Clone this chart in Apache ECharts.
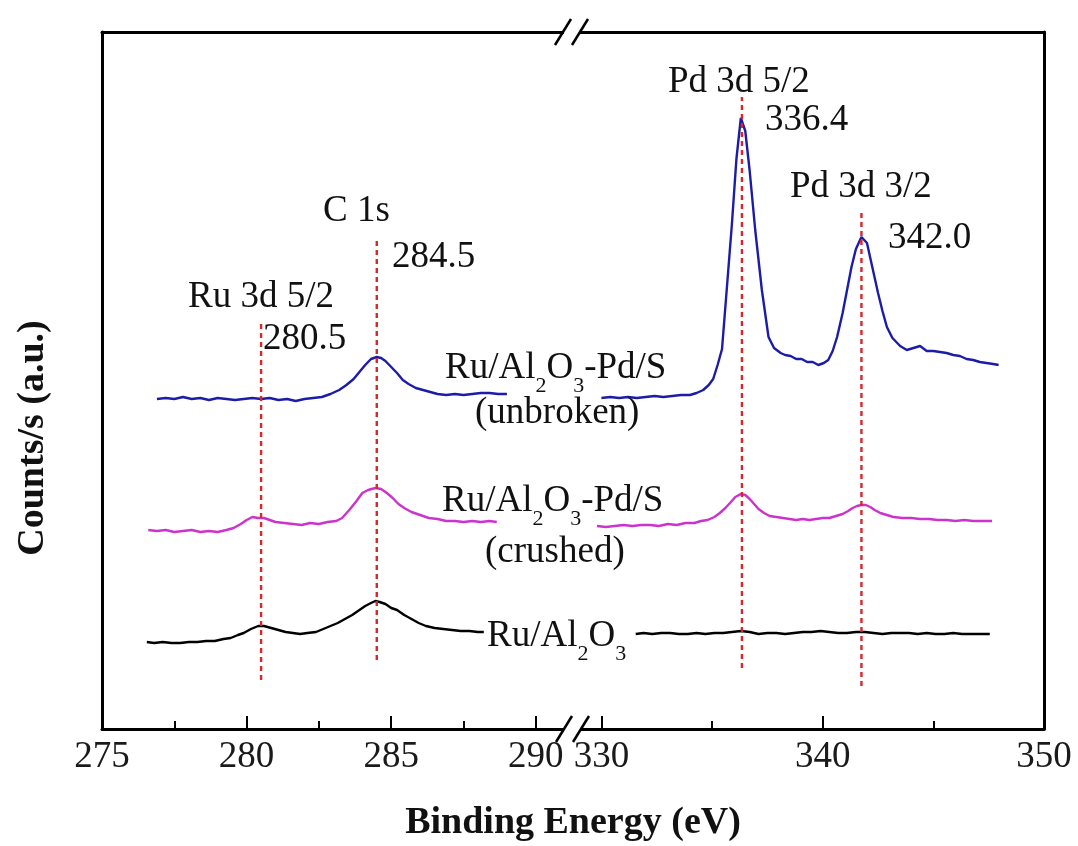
<!DOCTYPE html>
<html><head><meta charset="utf-8">
<script src="https://cdn.jsdelivr.net/npm/echarts@6/dist/echarts.min.js"></script>
<style>html,body{margin:0;padding:0;background:#fff}#c{width:1078px;height:846px}</style>
</head><body><div id="c"></div>
<script>
// ---- axis ticks / labels ----
const leftTickLabels = [275, 280, 285, 290];
const leftMinorTicks = [277.5, 282.5, 287.5];
const rightTickLabels = [330, 340, 350];
const rightMinorTicks = [335, 345];

// ---- series: [binding energy (eV), counts (a.u.)] ----
const unbrokenLeft = [[276.9,330],[277.2,331],[277.5,330],[277.8,332],[278.1,330],[278.4,331],[278.7,329],[279.0,331],[279.3,330],[279.6,329],[279.9,330],[280.2,331],[280.5,330],[280.8,331],[281.1,329],[281.4,330],[281.7,328],[282.0,330],[282.3,331],[282.6,332],[282.9,335],[283.2,339],[283.45,344],[283.7,350],[283.9,357],[284.1,364],[284.3,370],[284.5,372],[284.65,371],[284.8,368],[285.0,362],[285.2,356],[285.4,349],[285.6,345],[285.85,341],[286.1,339],[286.35,337],[286.6,335],[286.9,334],[287.2,335],[287.5,334],[287.8,335],[288.1,336],[288.4,336],[288.7,335],[289.0,335]];
const unbrokenRight = [[330.0,331],[330.4,332],[330.8,331],[331.2,332],[331.6,331],[332.0,332],[332.4,333],[332.8,332],[333.2,333],[333.6,334],[334.0,334],[334.3,336],[334.6,339],[334.85,344],[335.05,350],[335.25,364],[335.45,380],[335.65,436],[335.9,506],[336.1,570],[336.3,611],[336.5,598],[336.7,558],[336.95,499],[337.25,439],[337.55,392],[337.8,381],[338.1,376],[338.3,374],[338.55,373],[338.8,370],[339.05,370],[339.3,367],[339.55,367],[339.8,364],[340.05,366],[340.25,369],[340.45,378],[340.65,392],[340.9,416],[341.1,439],[341.3,462],[341.5,480],[341.75,492],[342.0,486],[342.3,456],[342.5,436],[342.7,418],[342.9,402],[343.15,391],[343.5,383],[343.8,379],[344.1,381],[344.4,383],[344.7,378],[345.0,378],[345.3,377],[345.6,376],[345.9,374],[346.2,373],[346.5,370],[346.8,369],[347.1,367],[347.4,366],[347.7,365],[347.95,364]];
const crushedLeft = [[276.6,199],[276.9,198],[277.2,199],[277.5,197],[277.8,198],[278.1,199],[278.4,197],[278.7,198],[279.0,197],[279.3,199],[279.55,201],[279.8,205],[280.0,209],[280.2,212],[280.4,211],[280.6,211],[280.8,209],[281.0,207],[281.3,206],[281.6,205],[281.9,204],[282.2,206],[282.5,205],[282.8,207],[283.1,208],[283.3,211],[283.55,219],[283.8,228],[284.0,236],[284.2,239],[284.45,241],[284.65,240],[284.85,236],[285.05,231],[285.25,225],[285.45,221],[285.7,217],[286.0,214],[286.3,211],[286.6,210],[286.9,208],[287.2,208],[287.5,207],[287.8,208],[288.1,207],[288.4,208],[288.65,207]];
const crushedRight = [[329.8,203],[330.2,202],[330.6,203],[331.0,204],[331.4,203],[331.8,204],[332.2,204],[332.6,203],[333.0,205],[333.4,204],[333.8,206],[334.2,206],[334.5,208],[334.8,209],[335.1,212],[335.35,216],[335.6,221],[335.85,227],[336.05,232],[336.3,235],[336.5,234],[336.7,230],[336.9,225],[337.1,220],[337.35,216],[337.6,213],[337.9,212],[338.2,211],[338.5,210],[338.8,209],[339.1,210],[339.4,209],[339.7,210],[340.0,211],[340.3,211],[340.6,213],[340.9,215],[341.15,218],[341.35,221],[341.55,223],[341.75,224],[341.95,224],[342.15,222],[342.35,219],[342.6,216],[342.9,214],[343.2,212],[343.6,211],[344.0,211],[344.4,210],[344.8,210],[345.2,209],[345.6,209],[346.0,208],[346.4,209],[346.8,208],[347.2,208],[347.65,208]];
const bareLeft = [[276.55,87],[276.8,86],[277.1,87],[277.4,86],[277.7,86],[278.0,87],[278.3,87],[278.6,88],[278.9,88],[279.2,90],[279.45,91],[279.7,94],[279.9,96],[280.15,100],[280.4,103],[280.6,103],[280.85,101],[281.1,99],[281.35,97],[281.6,96],[281.85,95],[282.1,96],[282.4,97],[282.65,100],[282.9,103],[283.15,106],[283.4,110],[283.65,114],[283.9,119],[284.1,123],[284.3,126],[284.45,128],[284.6,127],[284.8,125],[285.0,121],[285.2,119],[285.45,114],[285.7,110],[285.95,106],[286.2,103],[286.5,101],[286.8,100],[287.1,99],[287.4,98],[287.7,98],[288.0,97],[288.2,97]];
const bareRight = [[331.55,95],[331.9,96],[332.3,95],[332.7,96],[333.1,96],[333.5,95],[333.9,95],[334.3,96],[334.7,95],[335.1,96],[335.5,96],[335.9,97],[336.3,98],[336.7,97],[337.1,95],[337.5,96],[337.9,96],[338.3,95],[338.7,96],[339.1,97],[339.5,97],[339.9,98],[340.3,97],[340.7,96],[341.1,96],[341.5,97],[341.9,97],[342.3,96],[342.7,95],[343.1,96],[343.5,96],[343.9,96],[344.3,95],[344.7,96],[345.1,95],[345.5,95],[345.9,96],[346.3,95],[346.7,95],[347.1,95],[347.55,95]];

// ---- peak reference lines: energy and [bottom, top] counts ----
const peakEnergiesLeft = [280.5, 284.5];
const peakRangesLeft = [[49, 407], [69, 489]];
const peakEnergiesRight = [336.35, 341.75];
const peakRangesRight = [[61, 632], [43, 517]];

const FONT = '"Liberation Serif","Times New Roman",serif';
const BLUE = '#1c1ca8', MAGENTA = '#cc33cc', BLACK = '#000000', RED = '#d8262b';

const chart = echarts.init(document.getElementById('c'), null, {renderer: 'canvas'});

const LMIN = 275, LMAX = 291.25, RMIN = 328.67, RMAX = 350, YMAX = 697;

function majorAxis(grid, min, max, labels) {
  return {type: 'value', gridIndex: grid, position: 'bottom', min, max,
    axisLine: {show: true, onZero: false, lineStyle: {color: '#000', width: 3}},
    axisTick: {show: true, inside: true, length: 13, customValues: labels, lineStyle: {color: '#000', width: 2}},
    axisLabel: {show: true, customValues: labels, margin: 10, fontSize: 37, fontFamily: FONT, color: '#1a1a1a'},
    splitLine: {show: false}};
}
function minorAxis(grid, min, max, ticks) {
  return {type: 'value', gridIndex: grid, position: 'bottom', min, max,
    axisLine: {show: false, onZero: false},
    axisTick: {show: true, inside: true, length: 8, customValues: ticks, lineStyle: {color: '#000', width: 2}},
    axisLabel: {show: false}, splitLine: {show: false}};
}
function topAxis(grid, min, max) {
  return {type: 'value', gridIndex: grid, position: 'top', min, max,
    axisLine: {show: true, onZero: false, lineStyle: {color: '#000', width: 3}},
    axisTick: {show: false}, axisLabel: {show: false}, splitLine: {show: false}};
}
function yAx(grid, pos) {
  return {type: 'value', gridIndex: grid, position: pos, min: 0, max: YMAX,
    axisLine: {show: true, onZero: false, lineStyle: {color: '#000', width: 3}},
    axisTick: {show: false}, axisLabel: {show: false}, splitLine: {show: false}};
}
function curve(name, data, color, right) {
  return {type: 'line', name, data, xAxisIndex: right ? 3 : 0, yAxisIndex: right ? 1 : 0,
    showSymbol: false, symbol: 'none', smooth: false, z: 3,
    lineStyle: {color, width: 2.4}, itemStyle: {color}};
}
function peakLine(e, rng, right) {
  return {type: 'line', data: [[e, rng[0]], [e, rng[1]]], xAxisIndex: right ? 3 : 0, yAxisIndex: right ? 1 : 0,
    showSymbol: false, symbol: 'none', z: 5,
    lineStyle: {color: RED, width: 2.4, type: [5, 4]}};
}

const series = [
  curve('Ru/Al2O3-Pd/S (unbroken)', unbrokenLeft, BLUE, false),
  curve('Ru/Al2O3-Pd/S (unbroken)', unbrokenRight, BLUE, true),
  curve('Ru/Al2O3-Pd/S (crushed)', crushedLeft, MAGENTA, false),
  curve('Ru/Al2O3-Pd/S (crushed)', crushedRight, MAGENTA, true),
  curve('Ru/Al2O3', bareLeft, BLACK, false),
  curve('Ru/Al2O3', bareRight, BLACK, true)
];
peakEnergiesLeft.forEach((e, i) => series.push(peakLine(e, peakRangesLeft[i], false)));
peakEnergiesRight.forEach((e, i) => series.push(peakLine(e, peakRangesRight[i], true)));

const richSub = {
  n: {fontSize: 37, fontFamily: FONT, color: '#111'},
  s: {fontSize: 22, fontFamily: FONT, color: '#111', padding: [36, 0, 0, 0]}
};
function txt(text, x, y, align, extra) {
  return Object.assign({type: 'text', z: 100, style: {text, x, y, align: align || 'left', verticalAlign: 'middle',
    fontSize: 37, fontFamily: FONT, fill: '#111'}}, extra || {});
}
function richTxt(text, x, y) {
  return {type: 'text', z: 100, style: {text, x, y, align: 'left', verticalAlign: 'middle', rich: richSub, fontSize: 37, fontFamily: FONT, fill: '#111'}};
}
function slash(x, y) {
  return {type: 'line', z: 101, shape: {x1: x - 8, y1: y + 13, x2: x + 8, y2: y - 13}, style: {stroke: '#000', lineWidth: 2.5}};
}
const graphic = [
  {type: 'rect', z: 99, shape: {x: 564, y: 725, width: 16, height: 9}, style: {fill: '#fff'}},
  {type: 'rect', z: 99, shape: {x: 564, y: 28, width: 16, height: 9}, style: {fill: '#fff'}},
  slash(564, 729), slash(581, 729), slash(563, 32), slash(580, 32),
  txt('Pd 3d 5/2', 668, 82),
  txt('336.4', 765, 120),
  txt('Pd 3d 3/2', 790, 187),
  txt('342.0', 888, 238),
  txt('C 1s', 323, 211),
  txt('284.5', 392, 257),
  txt('Ru 3d 5/2', 188, 297),
  txt('280.5', 263, 339),
  richTxt('{n|Ru/Al}{s|2}{n|O}{s|3}{n|-Pd/S}', 445, 368),
  txt('(unbroken)', 475, 413),
  richTxt('{n|Ru/Al}{s|2}{n|O}{s|3}{n|-Pd/S}', 442, 501),
  txt('(crushed)', 485, 552),
  richTxt('{n|Ru/Al}{s|2}{n|O}{s|3}', 487, 636),
  {type: 'text', z: 100, rotation: Math.PI / 2, x: 33, y: 438,
    style: {text: 'Counts/s (a.u.)', x: 0, y: 0, align: 'center', verticalAlign: 'middle', fontSize: 38, fontWeight: 'bold', fontFamily: FONT, fill: '#111'}},
  txt('Binding Energy (eV)', 573, 823, 'center', {style: {text: 'Binding Energy (eV)', x: 573, y: 823, align: 'center', verticalAlign: 'middle', fontSize: 38, fontWeight: 'bold', fontFamily: FONT, fill: '#111'}})
];

chart.setOption({
  animation: false,
  backgroundColor: '#fff',
  grid: [
    {left: 102, right: 1078 - 572, top: 32, bottom: 846 - 729, containLabel: false},
    {left: 572, right: 34, top: 32, bottom: 846 - 729, containLabel: false}
  ],
  xAxis: [
    majorAxis(0, LMIN, LMAX, leftTickLabels), minorAxis(0, LMIN, LMAX, leftMinorTicks), topAxis(0, LMIN, LMAX),
    majorAxis(1, RMIN, RMAX, rightTickLabels), minorAxis(1, RMIN, RMAX, rightMinorTicks), topAxis(1, RMIN, RMAX)
  ],
  yAxis: [yAx(0, 'left'), yAx(1, 'right')],
  series,
  graphic
});
</script></body></html>
